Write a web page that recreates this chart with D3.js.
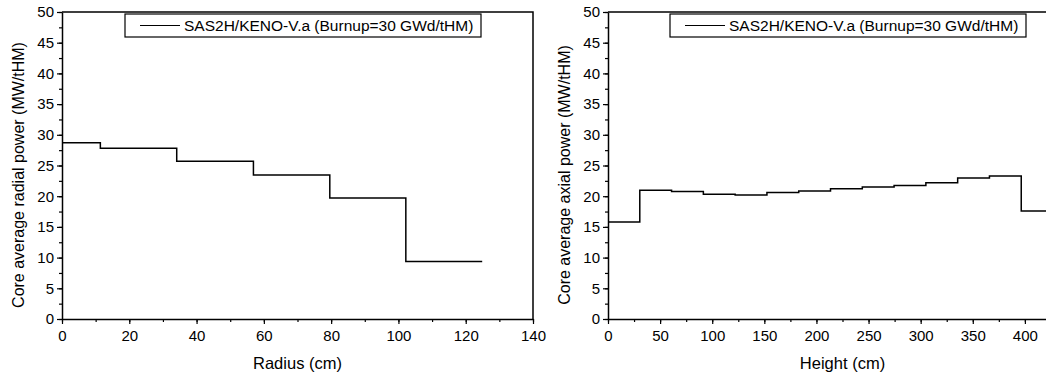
<html>
<head>
<meta charset="utf-8">
<title>Core average power</title>
<style>
  body { margin: 0; background: #fff; }
  svg { display: block; }
  text { font-family: "Liberation Sans", Arial, sans-serif; fill: #000; }
</style>
</head>
<body>
<script src="https://cdn.jsdelivr.net/npm/d3@7"></script>
<script>
// radial profile: segment boundaries (cm) and power per segment (MW/tHM)
var radialEdges = [0, 11.4, 34.1, 56.9, 79.6, 102.2, 124.9];
var radialPower = [28.7, 27.8, 25.7, 23.45, 19.7, 9.35];

// axial profile
var axialEdges = [0, 30.5, 61, 91.5, 122, 152.5, 183, 213.5, 244, 274.5, 305, 335.5, 366, 396.5, 427];
var axialPower = [15.8, 20.95, 20.75, 20.3, 20.2, 20.6, 20.85, 21.2, 21.5, 21.75, 22.2, 22.95, 23.3, 17.6];

var radialTicks = [0, 20, 40, 60, 80, 100, 120, 140];
var axialTicks = [0, 50, 100, 150, 200, 250, 300, 350, 400];
var powerTicks = [0, 5, 10, 15, 20, 25, 30, 35, 40, 45, 50];

var legendLabel = "SAS2H/KENO-V.a (Burnup=30 GWd/tHM)";

var svg = d3.select("body").append("svg")
    .attr("width", 1046)
    .attr("height", 376);

function drawPanel(opt) {
    var x = d3.scaleLinear().domain(opt.xDomain).range([opt.left, opt.right]);
    var y = d3.scaleLinear().domain([0, 50]).range([319, 12]);
    var g = svg.append("g");

    // frame (top + right)
    g.append("path")
        .attr("d", "M" + opt.left + "," + y(50) + "H" + opt.right + "V" + y(0))
        .attr("fill", "none")
        .attr("stroke", "#000")
        .attr("stroke-width", 1.5);

    // minor ticks
    var xMinor = d3.range(opt.xDomain[0], opt.xDomain[1] + 0.001, opt.xMinor);
    g.append("g")
        .attr("transform", "translate(0," + y(0) + ")")
        .call(d3.axisBottom(x).tickValues(xMinor).tickSize(3).tickFormat(""))
        .call(function (s) { s.select(".domain").remove(); });
    g.append("g")
        .attr("transform", "translate(" + opt.left + ",0)")
        .call(d3.axisLeft(y).tickValues(d3.range(0, 50.001, 2.5)).tickSize(3).tickFormat(""))
        .call(function (s) { s.select(".domain").remove(); });

    // major axes
    var xa = g.append("g")
        .attr("transform", "translate(0," + y(0) + ")")
        .call(d3.axisBottom(x).tickValues(opt.xTicks).tickSize(5).tickSizeOuter(0).tickPadding(6));
    var ya = g.append("g")
        .attr("transform", "translate(" + opt.left + ",0)")
        .call(d3.axisLeft(y).tickValues(powerTicks).tickSize(5).tickSizeOuter(0).tickPadding(3));
    [xa, ya].forEach(function (a) {
        a.selectAll("text").style("font-size", "15px").attr("font-family", null);
        a.select(".domain").attr("stroke-width", 1.5);
    });
    g.selectAll(".tick line").attr("stroke-width", 1.2);

    // data as a step line
    var pts = opt.edges.map(function (e, i) {
        return [e, i < opt.values.length ? opt.values[i] : opt.values[opt.values.length - 1]];
    });
    g.append("path")
        .datum(pts)
        .attr("fill", "none")
        .attr("stroke", "#000")
        .attr("stroke-width", 1.5)
        .attr("d", d3.line()
            .x(function (d) { return x(d[0]); })
            .y(function (d) { return y(d[1]); })
            .curve(d3.curveStepAfter));

    // axis titles
    g.append("text")
        .attr("x", (opt.left + opt.right) / 2)
        .attr("y", 369)
        .attr("text-anchor", "middle")
        .style("font-size", "16.5px")
        .text(opt.xTitle);
    g.append("text")
        .attr("transform", "translate(" + (opt.left - 38) + "," + 175 + ") rotate(-90)")
        .attr("text-anchor", "middle")
        .style("font-size", "16px")
        .text(opt.yTitle);

    // legend
    var lx = opt.legendX;
    g.append("rect")
        .attr("x", lx).attr("y", 14)
        .attr("width", 356).attr("height", 23)
        .attr("fill", "#fff")
        .attr("stroke", "#000")
        .attr("stroke-width", 1.2);
    g.append("line")
        .attr("x1", lx + 15).attr("x2", lx + 55)
        .attr("y1", 25.5).attr("y2", 25.5)
        .attr("stroke", "#000")
        .attr("stroke-width", 1.2);
    g.append("text")
        .attr("x", lx + 59)
        .attr("y", 31)
        .style("font-size", "15.5px")
        .text(legendLabel);
}

drawPanel({
    left: 62, right: 533,
    xDomain: [0, 140], xTicks: radialTicks, xMinor: 10,
    edges: radialEdges, values: radialPower,
    xTitle: "Radius (cm)",
    yTitle: "Core average radial power (MW/tHM)",
    legendX: 125
});

drawPanel({
    left: 608, right: 1077,
    xDomain: [0, 450], xTicks: axialTicks, xMinor: 25,
    edges: axialEdges, values: axialPower,
    xTitle: "Height (cm)",
    yTitle: "Core average axial power (MW/tHM)",
    legendX: 670
});
</script>
</body>
</html>
